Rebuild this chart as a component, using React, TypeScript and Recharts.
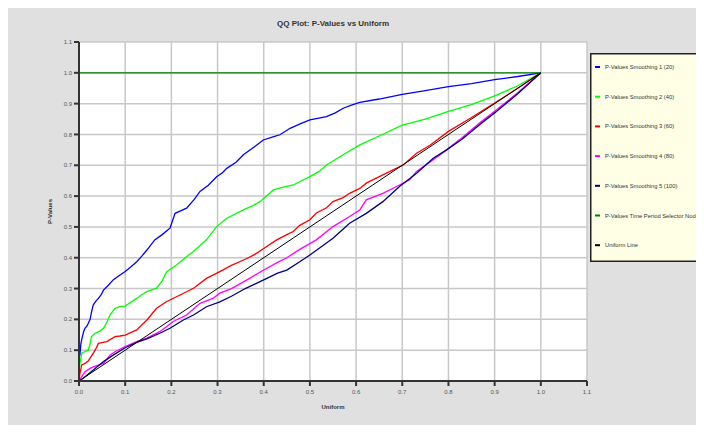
import React from 'react';
import { LineChart, Line, XAxis, YAxis, CartesianGrid } from 'recharts';

type Pt = [number, number];

const ticks = [0, 0.1, 0.2, 0.3, 0.4, 0.5, 0.6, 0.7, 0.8, 0.9, 1.0, 1.1];

const smoothing1: Pt[] = [
  [0, 0.075], [0.002, 0.085], [0.004, 0.12], [0.006, 0.135], [0.01, 0.16], [0.013, 0.171], [0.018, 0.18],
  [0.024, 0.2], [0.028, 0.23], [0.031, 0.247], [0.037, 0.26], [0.042, 0.268], [0.048, 0.28], [0.053, 0.295],
  [0.063, 0.31], [0.074, 0.328], [0.085, 0.34], [0.1, 0.355], [0.112, 0.37], [0.125, 0.387], [0.136, 0.405],
  [0.147, 0.425], [0.164, 0.458], [0.18, 0.475], [0.197, 0.496], [0.208, 0.544], [0.22, 0.552], [0.233, 0.561],
  [0.25, 0.59], [0.262, 0.615], [0.28, 0.635], [0.298, 0.663], [0.31, 0.675], [0.32, 0.69], [0.34, 0.71],
  [0.356, 0.734], [0.38, 0.76], [0.399, 0.782], [0.42, 0.792], [0.435, 0.799], [0.457, 0.82], [0.48, 0.835],
  [0.5, 0.847], [0.536, 0.858], [0.555, 0.87], [0.572, 0.885], [0.59, 0.895], [0.608, 0.904], [0.65, 0.915],
  [0.7, 0.93], [0.75, 0.942], [0.8, 0.955], [0.85, 0.965], [0.9, 0.978], [0.95, 0.988], [1.0, 1.0],
];

const smoothing2: Pt[] = [
  [0, 0.03], [0.002, 0.057], [0.006, 0.09], [0.012, 0.095], [0.02, 0.1], [0.024, 0.12], [0.027, 0.144],
  [0.035, 0.155], [0.045, 0.162], [0.053, 0.171], [0.06, 0.19], [0.067, 0.214], [0.078, 0.236], [0.089, 0.241],
  [0.1, 0.243], [0.112, 0.255], [0.125, 0.268], [0.136, 0.28], [0.147, 0.29], [0.168, 0.301], [0.18, 0.325],
  [0.19, 0.355], [0.212, 0.377], [0.23, 0.4], [0.248, 0.42], [0.262, 0.44], [0.276, 0.458], [0.298, 0.501],
  [0.32, 0.528], [0.356, 0.555], [0.375, 0.568], [0.392, 0.582], [0.421, 0.62], [0.44, 0.628], [0.464, 0.636],
  [0.5, 0.663], [0.52, 0.68], [0.536, 0.701], [0.572, 0.734], [0.608, 0.766], [0.65, 0.795], [0.7, 0.83],
  [0.75, 0.85], [0.8, 0.875], [0.85, 0.897], [0.9, 0.925], [0.95, 0.958], [1.0, 1.0],
];

const smoothing3: Pt[] = [
  [0, 0], [0.002, 0.025], [0.006, 0.052], [0.013, 0.057], [0.02, 0.065], [0.024, 0.074], [0.035, 0.1],
  [0.042, 0.122], [0.06, 0.128], [0.078, 0.144], [0.089, 0.146], [0.1, 0.149], [0.125, 0.166], [0.147, 0.198],
  [0.168, 0.236], [0.19, 0.258], [0.219, 0.279], [0.248, 0.301], [0.276, 0.333], [0.305, 0.355], [0.33, 0.375],
  [0.36, 0.395], [0.38, 0.41], [0.4, 0.43], [0.428, 0.458], [0.45, 0.475], [0.464, 0.485], [0.478, 0.505],
  [0.5, 0.523], [0.514, 0.545], [0.536, 0.562], [0.55, 0.582], [0.572, 0.595], [0.586, 0.609], [0.608, 0.625],
  [0.622, 0.642], [0.658, 0.669], [0.68, 0.685], [0.702, 0.701], [0.731, 0.739], [0.76, 0.765], [0.8, 0.81],
  [0.85, 0.855], [0.9, 0.902], [0.95, 0.95], [1.0, 1.0],
];

const smoothing4: Pt[] = [
  [0, 0], [0.006, 0.014], [0.013, 0.03], [0.024, 0.041], [0.031, 0.046], [0.053, 0.057], [0.067, 0.084],
  [0.078, 0.095], [0.1, 0.112], [0.125, 0.128], [0.147, 0.139], [0.175, 0.16], [0.204, 0.193], [0.233, 0.214],
  [0.262, 0.252], [0.29, 0.268], [0.305, 0.285], [0.33, 0.3], [0.36, 0.325], [0.4, 0.36], [0.43, 0.385],
  [0.45, 0.4], [0.478, 0.427], [0.514, 0.458], [0.55, 0.501], [0.586, 0.534], [0.608, 0.555], [0.622, 0.588],
  [0.658, 0.609], [0.694, 0.636], [0.716, 0.653], [0.731, 0.68], [0.767, 0.718], [0.796, 0.75], [0.83, 0.79],
  [0.87, 0.84], [0.9, 0.875], [0.95, 0.935], [1.0, 1.0],
];

const smoothing5: Pt[] = [
  [0, 0], [0.009, 0.009], [0.031, 0.036], [0.053, 0.063], [0.074, 0.084], [0.1, 0.108], [0.125, 0.125],
  [0.147, 0.137], [0.175, 0.155], [0.197, 0.171], [0.226, 0.198], [0.248, 0.214], [0.276, 0.241], [0.305, 0.257],
  [0.33, 0.275], [0.36, 0.3], [0.4, 0.328], [0.43, 0.35], [0.45, 0.36], [0.478, 0.387], [0.5, 0.409],
  [0.55, 0.463], [0.586, 0.512], [0.622, 0.544], [0.658, 0.582], [0.694, 0.631], [0.731, 0.674], [0.767, 0.723],
  [0.796, 0.75], [0.83, 0.785], [0.87, 0.835], [0.9, 0.87], [0.95, 0.932], [1.0, 1.0],
];

const timePeriod: Pt[] = [[0, 1], [1, 1]];
const uniformLine: Pt[] = [[0, 0], [1, 1]];

const seriesNames = [
  'P-Values Smoothing 1 (20)',
  'P-Values Smoothing 2 (40)',
  'P-Values Smoothing 3 (60)',
  'P-Values Smoothing 4 (80)',
  'P-Values Smoothing 5 (100)',
  'P-Values Time Period Selector Node 1',
  'Uniform Line',
];
const seriesColors = ['#0000ff', '#00ff00', '#ff0000', '#ff00ff', '#000080', '#008000', '#000000'];
const seriesData = [smoothing1, smoothing2, smoothing3, smoothing4, smoothing5, timePeriod, uniformLine];
const seriesWidths = [1.3, 1.3, 1.3, 1.3, 1.3, 1.2, 1];

const FONT = 'Arial, "Liberation Sans", sans-serif';

const toObjs = (pts: Pt[]) => pts.map(([x, y]) => ({ x, y }));

const LegendBox = () => (
  <svg width={114} height={209} style={{ position: 'absolute', left: 582, top: 45, display: 'block' }}>
    <rect x={0.75} y={0.75} width={130} height={207.5} fill="#ffffe6" stroke="#222" strokeWidth={1.5} />
    {seriesNames.map((n, i) => (
      <g key={n}>
        <rect x={5} y={13 + i * 29.7} width={5} height={2} fill={seriesColors[i]} />
        <text x={15} y={14 + i * 29.7} dy="0.35em" fontSize={5.8} fill="#333" fontFamily={FONT}>
          {n}
        </text>
      </g>
    ))}
  </svg>
);

export default function App() {
  const tickFmt = (v: number) => v.toFixed(1);
  return (
    <div style={{ position: 'relative', width: 696, height: 417, background: '#e0e0e0', overflow: 'hidden' }}>
      <div
        style={{
          position: 'absolute', left: 225, width: 200, top: 11, height: 10, lineHeight: '10px',
          textAlign: 'center', fontFamily: FONT, fontWeight: 'bold', fontSize: 8, color: '#333',
        }}
      >
        QQ Plot: P-Values vs Uniform
      </div>
      <LineChart width={696} height={417} margin={{ top: 34, right: 117, bottom: 4, left: 26 }}>
        <CartesianGrid fill="#ffffff" stroke="#c8c8c8" strokeWidth={1.5} />
        <XAxis
          dataKey="x"
          type="number"
          domain={[0, 1.1]}
          ticks={ticks}
          tickFormatter={tickFmt}
          height={40}
          tickSize={5}
          tickMargin={4}
          axisLine={{ stroke: '#333', strokeWidth: 2 }}
          tickLine={{ stroke: '#333', strokeWidth: 2 }}
          tick={{ fontSize: 6, fill: '#555', fontFamily: FONT }}
          allowDataOverflow
          label={{
            content: (props: any) => {
              const vb = props.viewBox || {};
              return (
                <text x={vb.x + vb.width / 2} y={399} textAnchor="middle" dy="0.35em" fontSize={6}
                  fontWeight="bold" fill="#333" fontFamily={FONT}>
                  Uniform
                </text>
              );
            },
          }}
        />
        <YAxis
          dataKey="y"
          type="number"
          domain={[0, 1.1]}
          ticks={ticks}
          tickFormatter={tickFmt}
          width={45}
          tickSize={5}
          tickMargin={2}
          axisLine={{ stroke: '#333', strokeWidth: 2 }}
          tickLine={{ stroke: '#333', strokeWidth: 2 }}
          tick={{ fontSize: 6, fill: '#555', fontFamily: FONT }}
          allowDataOverflow
          label={{
            content: (props: any) => {
              const vb = props.viewBox || {};
              const cy = vb.y + vb.height / 2;
              return (
                <text x={42} y={cy} textAnchor="middle" dy="0.35em" fontSize={6} fontWeight="bold"
                  fill="#333" fontFamily={FONT} transform={`rotate(-90 42 ${cy})`}>
                  P-Values
                </text>
              );
            },
          }}
        />
        {seriesData.map((d, i) => (
          <Line
            key={seriesNames[i]}
            name={seriesNames[i]}
            data={toObjs(d)}
            dataKey="y"
            type="linear"
            stroke={seriesColors[i]}
            strokeWidth={seriesWidths[i]}
            dot={false}
            activeDot={false}
            isAnimationActive={false}
          />
        ))}
      </LineChart>
      <LegendBox />
    </div>
  );
}
